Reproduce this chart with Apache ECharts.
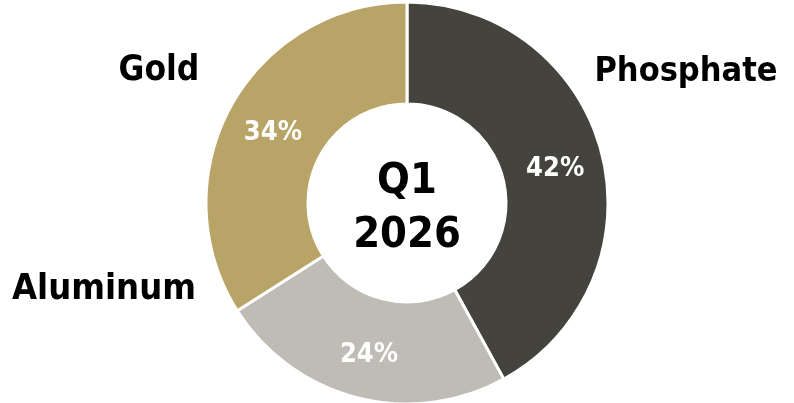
<!DOCTYPE html>
<html>
<head>
<meta charset="utf-8">
<script src="https://cdn.jsdelivr.net/npm/echarts@6/dist/echarts.min.js"></script>
<style>
  html, body { margin: 0; padding: 0; background: #ffffff; }
  #chart { width: 794px; height: 403px; }
</style>
</head>
<body>
<div id="chart"></div>
<script>
// Portfolio split by commodity
const categories = ['Phosphate', 'Aluminum', 'Gold'];
const shares = [42, 24, 34];
const colors = ['#44433d', '#bfbbb5', '#b9a467'];
const centerLines = ['Q1', '2026'];

const FONT = '"DejaVu Sans Condensed", "DejaVu Sans", sans-serif';

const chart = echarts.init(document.getElementById('chart'), null, { renderer: 'canvas' });

const data = categories.map((name, i) => ({
  name: name,
  value: shares[i],
  itemStyle: { color: colors[i] }
}));

// Category names sit outside the ring
const nameLabels = [
  { text: categories[0], x: 686, y: 72, size: 34 },
  { text: categories[1], x: 104, y: 290, size: 36 },
  { text: categories[2], x: 159, y: 71, size: 35 }
];

chart.setOption({
  animation: false,
  series: [{
    type: 'pie',
    center: [407, 203],
    radius: [99, 201],
    startAngle: 90,
    clockwise: true,
    data: data,
    itemStyle: { borderColor: '#ffffff', borderWidth: 3 },
    label: {
      show: true,
      position: 'inside',
      formatter: '{c}%',
      color: '#ffffff',
      fontFamily: FONT,
      fontWeight: 'bold',
      fontSize: 27,
      offset: [0, 4]
    },
    labelLine: { show: false },
    emphasis: { disabled: true }
  }],
  graphic: [
    {
      type: 'text',
      x: 407, y: 209,
      style: {
        text: centerLines.join('\n'),
        fontFamily: FONT,
        fontWeight: 'bold',
        fontSize: 43,
        lineHeight: 54,
        fill: '#000000',
        align: 'center',
        verticalAlign: 'middle'
      }
    }
  ].concat(nameLabels.map(l => ({
    type: 'text',
    x: l.x, y: l.y,
    style: {
      text: l.text,
      fontFamily: FONT,
      fontWeight: 'bold',
      fontSize: l.size,
      fill: '#000000',
      align: 'center',
      verticalAlign: 'middle'
    }
  })))
});
</script>
</body>
</html>
